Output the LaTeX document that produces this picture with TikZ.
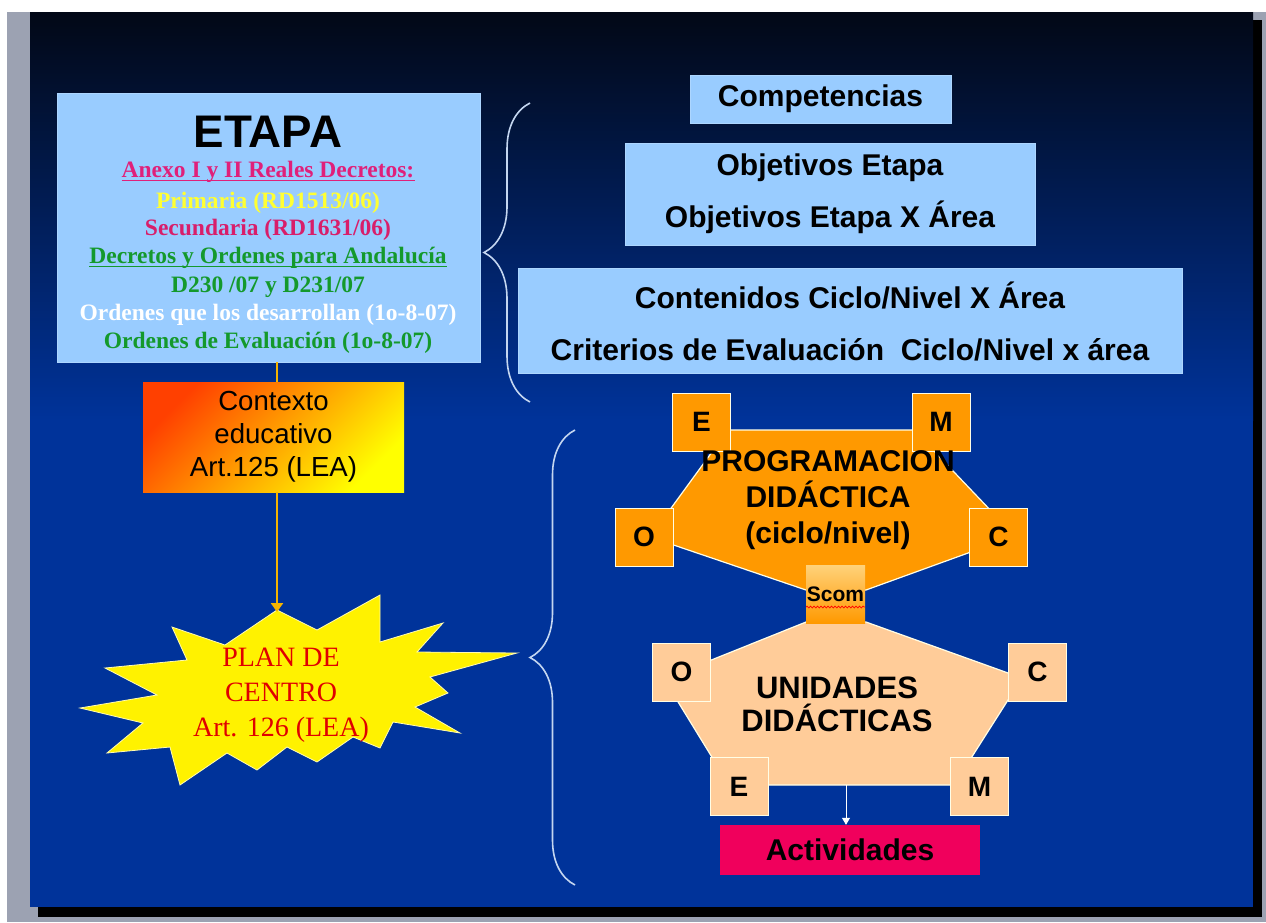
\documentclass[tikz,border=0pt]{standalone}
\usepackage{fontspec}
\setmainfont{Liberation Serif}
\setsansfont{Liberation Sans}
\usepackage{xcolor}
\usetikzlibrary{arrows.meta}
\usetikzlibrary{decorations.pathreplacing,decorations.pathmorphing}

\definecolor{pagegray}{HTML}{9CA2B2}
\definecolor{slidetop}{HTML}{020816}
\definecolor{slideblue}{HTML}{00339A}
\definecolor{lightblue}{HTML}{99CCFF}
\definecolor{anexo}{HTML}{E0207A}
\definecolor{prim}{HTML}{FFFF33}
\definecolor{secu}{HTML}{D81E6A}
\definecolor{andal}{HTML}{14992C}
\definecolor{gold}{HTML}{F5B400}
\definecolor{ctxred}{HTML}{FF4000}
\definecolor{ctxorange}{HTML}{FFA800}
\definecolor{progorange}{HTML}{FF9900}
\definecolor{peach}{HTML}{FFCC99}
\definecolor{scomlight}{HTML}{FFD27A}
\definecolor{activ}{HTML}{F0005C}
\definecolor{bracecol}{HTML}{C4D6F0}
\definecolor{starred}{HTML}{E00000}

\begin{document}
\begin{tikzpicture}[x=1pt,y=-1pt]
  \tikzset{bluebox/.style = {shape=rectangle,fill=lightblue,draw=lightblue!80!white,line width=0.6pt,inner sep=0pt,align=center,font=\sffamily\bfseries\fontsize{30}{52}\selectfont}}
  \tikzset{etline/.style = {inner sep=0pt,font=\rmfamily\bfseries\fontsize{23.5}{28}\selectfont}}
  \tikzset{ctxbox/.style = {shape=rectangle,inner sep=0pt,align=center,minimum width=261pt,minimum height=110pt,
      top color=ctxred,middle color=ctxorange,bottom color=yellow,shading angle=45,
      font=\sffamily\fontsize{27.6}{33}\selectfont}}
  \tikzset{corner/.style = {shape=rectangle,draw=white!90!yellow,line width=0.9pt,minimum size=58pt,inner sep=0pt,font=\sffamily\bfseries\fontsize{28}{28}\selectfont}}
  \tikzset{pdcorner/.style = {corner,fill=progorange}}
  \tikzset{udcorner/.style = {corner,fill=peach}}
  \tikzset{pentatext/.style = {align=center,inner sep=0pt,font=\sffamily\bfseries\fontsize{30}{36}\selectfont}}
  \tikzset{goldline/.style = {color=gold,line width=2.5pt}}
  \tikzset{whiteline/.style = {color=white,line width=1pt}}
  \tikzset{bracket/.style = {draw=bracecol,line width=1.6pt,decorate}}
  \tikzset{ulined/.style = {line width=1.1pt}}
  \tikzset{%
  goldtip/.tip={Triangle[width=12pt,length=9pt]},
  whitetip/.tip={Triangle[width=8pt,length=7pt]},
}

  \useasboundingbox (0,0) rectangle (1266,922);

  % slide and its frame
  \fill[pagegray] (0,0) rectangle (1266,922);
  \fill[white] (0,0) rectangle (1266,12);
  \fill[white] (0,0) rectangle (7,922);
  \fill[black] (38,20) rectangle (1262,917);
  \shade[top color=slidetop,bottom color=slideblue] (30,12) rectangle (1253,420);
  \fill[slideblue] (30,419) rectangle (1253,907);

  % etapa
  \node[bluebox,minimum width=423pt,minimum height=269pt] (ET) at (268.5,227.5) {};
  \node[inner sep=0pt,font=\sffamily\bfseries\fontsize{45.7}{46}\selectfont] (ETt) at (268,132) {ETAPA};
  \node[etline,text=anexo] (AN) at (268,172) {Anexo I y II Reales Decretos:};
  \node[etline,text=prim] (PR) at (268,203) {Primaria (RD1513/06)};
  \node[etline,text=secu] (SE) at (268,230) {Secundaria (RD1631/06)};
  \node[etline,text=andal] (DA) at (268,258) {Decretos y Ordenes para Andalucía};
  \node[etline,text=andal] (DD) at (268,287) {D230 /07 y D231/07};
  \node[etline,text=white] (OD) at (268,315) {Ordenes que los desarrollan (1o-8-07)};
  \node[etline,text=andal] (OE) at (268,343) {Ordenes de Evaluación (1o-8-07)};
  \draw[ulined,anexo] ([yshift=-2.5pt]AN.base west) -- ([yshift=-2.5pt]AN.base east);
  \draw[ulined,andal] ([yshift=-2.5pt]DA.base west) -- ([yshift=-2.5pt]DA.base east);

  \node[ctxbox] (CE) at (273.5,437) {Contexto\\educativo\\Art.125 (LEA)};

  % plan de centro
  \draw[fill=yellow,draw=white!70!yellow,line width=0.8pt]
    (80,708) -- (157,695) -- (105,668) -- (187,660) -- (172,627) -- (225,645) -- (277,610) -- (317,630)
    -- (380,595) -- (380,642) -- (443,623) -- (417,652) -- (517,653) -- (430,677) -- (448,693) -- (415,707)
    -- (460,733) -- (393,722) -- (380,748) -- (353,737) -- (317,762) -- (287,747) -- (257,770) -- (227,753)
    -- (180,785) -- (170,747) -- (107,753) -- (143,723) -- cycle;
  \node[align=center,inner sep=0pt,text=starred,font=\rmfamily\fontsize{28}{35}\selectfont] (PC) at (281,695) {PLAN DE\\CENTRO\\Art. 126 (LEA)};
  \coordinate (PCtop) at (277,612);

  \foreach \from/\to in {ET/CE}
    \path[goldline](\from.south -| PCtop) edge (\to.north -| PCtop);
  \path[goldline,-goldtip] (CE.south -| PCtop) edge (PCtop);

  % right column
  \node[bluebox,minimum width=261pt,minimum height=48pt] (CO) at (820.5,99) {Competencias};
  \node[bluebox,minimum width=410pt,minimum height=102pt] (OB) at (830,194) {Objetivos Etapa\\Objetivos Etapa X Área};
  \node[bluebox,minimum width=664pt,minimum height=105pt] (CC) at (850,321) {Contenidos Ciclo/Nivel X Área\\Criterios de Evaluación~ Ciclo/Nivel x área};

  \draw[bracket,decoration={brace,amplitude=46pt}] (530,402) -- (530,103);
  \draw[bracket,decoration={brace,amplitude=45pt}] (575,885) -- (575,430);

  % programacion and unidades
  \draw[fill=progorange,draw=white!90!yellow,line width=1.2pt]
    (728,430) -- (914,430) -- (1015,536) -- (866,590) -- (806,590) -- (650,537) -- cycle;
  \draw[fill=peach,draw=white!90!yellow,line width=1.2pt]
    (806,622) -- (866,622) -- (1022,678) -- (954,785) -- (729,785) -- (664,679) -- cycle;

  \node[shape=rectangle,minimum width=59pt,minimum height=58pt,inner sep=0pt,top color=scomlight,bottom color=progorange,
        font=\sffamily\bfseries\fontsize{21}{22}\selectfont] (SC) at (835.5,594) {\raisebox{-1pt}{Scom}};
  \draw[red,line width=0.7pt,decorate,decoration={snake,amplitude=0.9pt,segment length=3.5pt}] (806,607) -- (865,607);

  \node[pdcorner] (PDe) at (701.5,422) {E};
  \node[pdcorner] (PDm) at (941,422) {M};
  \node[pdcorner] (PDo) at (644,537) {O};
  \node[pdcorner] (PDc) at (998.5,537) {C};
  \node[udcorner] (UDo) at (681.5,672) {O};
  \node[udcorner] (UDc) at (1037.5,672) {C};
  \node[udcorner] (UDe) at (739,786.5) {E};
  \node[udcorner] (UDm) at (979.5,786.5) {M};

  \node[pentatext] (PD) at (828,500) {PROGRAMACION\\DIDÁCTICA\\(ciclo/nivel)};
  \node[pentatext,font=\sffamily\bfseries\fontsize{31}{33}\selectfont] (UD) at (837,704) {UNIDADES\\DIDÁCTICAS};

  \node[shape=rectangle,fill=activ,minimum width=260pt,minimum height=50pt,inner sep=0pt,
        font=\sffamily\bfseries\fontsize{30}{30}\selectfont] (AC) at (850,850) {Actividades};
  \coordinate (UDbot) at (846,785);
  \foreach \from/\to in {UDbot/AC}
    \path[whiteline,-whitetip](\from) edge (\to.north -| \from);
\end{tikzpicture}
\end{document}
